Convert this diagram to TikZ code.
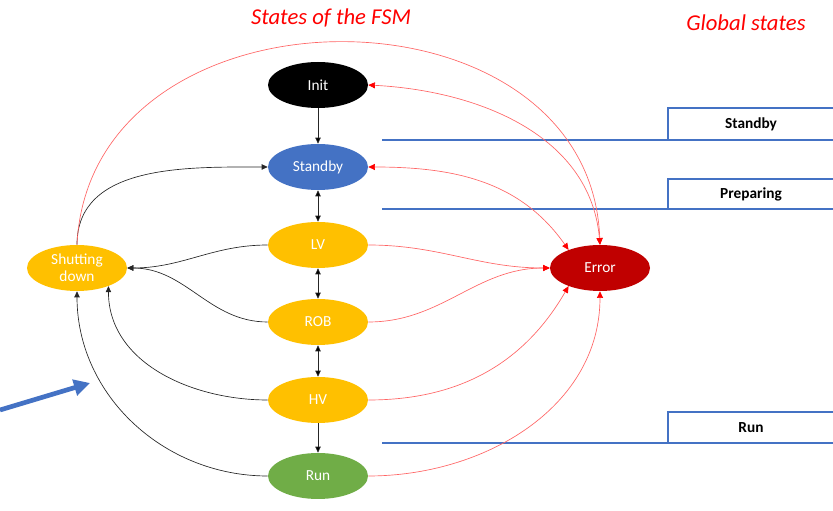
\documentclass[tikz,border=0pt]{standalone}
\usepackage{fontspec}
\setmainfont{Carlito}
\usepackage{tikz}
\usetikzlibrary{arrows.meta}
\usetikzlibrary{shapes.geometric}

\definecolor{fsmblue}{HTML}{4472C4}
\definecolor{fsmyellow}{HTML}{FFC000}
\definecolor{fsmgreen}{HTML}{70AD47}
\definecolor{fsmred}{HTML}{C00000}

\tikzset{
  ktip/.tip={Triangle[length=4.5pt, width=4pt]},
  rtip/.tip={Triangle[color=red, length=5pt, width=4.5pt]}
}

\begin{document}
\begin{tikzpicture}[x=0.75pt, y=0.75pt,
    state/.style={ellipse, fill=#1, draw=none, text=white, inner sep=0, minimum width=75pt, minimum height=34.5pt, align=center, font=\fontsize{11.5}{13}\selectfont},
    blk/.style={draw=black!85, line width=0.5pt, -ktip},
    dbl/.style={draw=black!85, line width=0.5pt, ktip-ktip},
    rd/.style={draw=red!60, line width=0.5pt, -rtip},
    rdd/.style={draw=red!60, line width=0.5pt, rtip-rtip},
    glob/.style={draw=fsmblue, line width=1pt},
    gl/.style={font=\fontsize{11.5}{13}\selectfont\bfseries},
    title/.style={text=red, font=\fontsize{17}{20}\selectfont\itshape}]
        \useasboundingbox (0,0) rectangle (833,511);

        \node (t0) [title] at (331,493) {States of the FSM};
        \node (t1) [title] at (746,488) {Global states};

        \node (init) [state=black] at (318,426) {Init};
        \node (standby) [state=fsmblue] at (318,344) {Standby};
        \node (lv) [state=fsmyellow] at (318,266) {LV};
        \node (rob) [state=fsmyellow] at (318,189) {ROB};
        \node (hv) [state=fsmyellow] at (318,111) {HV};
        \node (run) [state=fsmgreen] at (318,35) {Run};

        \node (shut) [state=fsmyellow] at (77,243) {Shutting\\down};
        \node (err) [state=fsmred] at (600,243) {Error};

        % global states bars
        \foreach \yb/\yt/\lab in {371/403/Standby, 302/332/Preparing, 68/99/Run} {
          \node (g\lab) [gl] at (751,{(\yb+\yt)/2}) {\lab};
          \draw[glob] (382,\yb) -- (833,\yb) (668,\yb) |- (833,\yt);
        }

        \path[blk]
        (init) edge (standby)
        (hv) edge (run)
        ;
        \path[dbl]
        (standby) edge (lv)
        (lv) edge (rob)
        (rob) edge (hv)
        ;

        % into shutting down
        \draw[blk] (shut.north) to[out=90, in=180] (standby.west);
        \draw[blk] (lv.west) to[out=180, in=0] (shut.east);
        \draw[blk] (rob.west) to[out=180, in=0] (shut.east);
        \draw[blk] (hv.west) to[out=180, in=-90] (shut.-30);
        \draw[blk] (run.west) to[out=180, in=-90] (shut.south);

        % into error
        \draw[rd] (shut.north) .. controls (90,536) and (590,536) .. (err.north);
        \draw[rdd] (init.east) to[out=-3, in=95] (err.north);
        \draw[rdd] (standby.east) to[out=0, in=125] (err.150);
        \draw[rd] (lv.east) to[out=0, in=180] (err.west);
        \draw[rd] (rob.east) to[out=0, in=180] (err.west);
        \draw[rd] (hv.east) to[out=0, in=240] (err.210);
        \draw[rd] (run.east) to[out=0, in=270] (err.south);

        \coordinate (bluetail) at (0,101);
        \coordinate (bluetip) at (90,128);
        \draw[fsmblue, line width=3.5pt, -{Triangle[length=12pt, width=12pt]}] (bluetail) -- (bluetip);
      \end{tikzpicture}
\end{document}
